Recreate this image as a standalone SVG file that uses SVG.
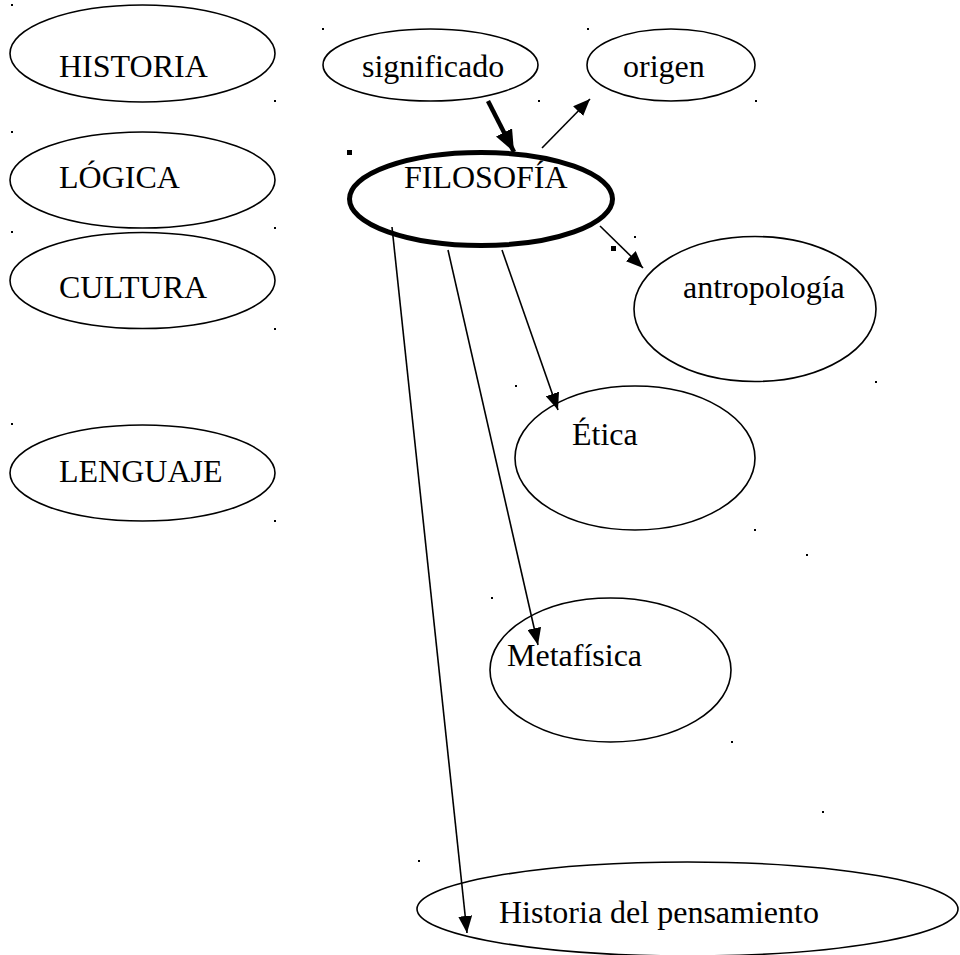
<svg xmlns="http://www.w3.org/2000/svg" width="960" height="955" viewBox="0 0 960 955">
<style>
.n{fill:#fff;stroke:#000;stroke-width:1.6}
.b{fill:#fff;stroke:#000;stroke-width:5}
.t{font-family:"Liberation Serif","Times New Roman",serif;font-size:32px;fill:#000}
.c{stroke:#000;stroke-width:1.6;fill:none}
.ct{stroke:#000;stroke-width:4.5;fill:none}
.d{fill:#000}
</style>
<defs>
<marker id="a" markerUnits="userSpaceOnUse" viewBox="0 0 17 14" refX="17" refY="7" markerWidth="17" markerHeight="14" orient="auto"><path d="M0,0 L17,7 L0,14 Z" fill="#000"/></marker>
<marker id="at" markerUnits="userSpaceOnUse" viewBox="0 0 22 18" refX="22" refY="9" markerWidth="22" markerHeight="18" orient="auto"><path d="M0,0 L22,9 L0,18 Z" fill="#000"/></marker>
</defs>
<rect width="960" height="955" fill="#fff"/>
<g id="historia"><ellipse class="n" cx="142.5" cy="53.5" rx="132.5" ry="48.5"/><text class="t" x="59" y="77">HISTORIA</text></g>
<g id="logica"><ellipse class="n" cx="142.5" cy="180" rx="132.5" ry="48"/><text class="t" x="59" y="188">LÓGICA</text></g>
<g id="cultura"><ellipse class="n" cx="142.5" cy="280.5" rx="132.5" ry="48"/><text class="t" x="59" y="298">CULTURA</text></g>
<g id="lenguaje"><ellipse class="n" cx="142.5" cy="473" rx="132.5" ry="48"/><text class="t" x="59" y="482">LENGUAJE</text></g>
<g id="significado"><ellipse class="n" cx="430.5" cy="65" rx="107.5" ry="36"/><text class="t" x="362" y="77">significado</text></g>
<g id="origen"><ellipse class="n" cx="671" cy="65" rx="84" ry="36"/><text class="t" x="623" y="77">origen</text></g>
<g id="filosofia"><ellipse class="b" cx="481" cy="199" rx="131.5" ry="46.5"/><text class="t" x="404" y="188">FILOSOFÍA</text></g>
<g id="antropologia"><ellipse class="n" cx="755" cy="309" rx="121" ry="72.5"/><text class="t" x="683" y="298">antropología</text></g>
<g id="etica"><ellipse class="n" cx="635" cy="458" rx="120" ry="72"/><text class="t" x="572" y="445">Ética</text></g>
<g id="metafisica"><ellipse class="n" cx="610.5" cy="670" rx="120.5" ry="72"/><text class="t" x="507" y="666">Metafísica</text></g>
<g id="historia-pensamiento"><ellipse class="n" cx="687.5" cy="909" rx="270.5" ry="47"/><text class="t" x="499" y="923">Historia del pensamiento</text></g>
<g id="connectors">
<line class="ct" x1="488" y1="101" x2="514" y2="152" marker-end="url(#at)"/>
<line class="c" x1="542" y1="148" x2="590" y2="99" marker-end="url(#a)"/>
<line class="c" x1="600" y1="226" x2="643" y2="268" marker-end="url(#a)"/>
<line class="c" x1="502" y1="250" x2="558" y2="410" marker-end="url(#a)"/>
<line class="c" x1="448" y1="250" x2="538" y2="645" marker-end="url(#a)"/>
<line class="c" x1="392" y1="227" x2="467" y2="933" marker-end="url(#a)"/>
</g>
<g id="dots" class="d">
<rect x="11" y="4" width="2" height="2"/>
<rect x="322" y="28" width="2" height="2"/>
<rect x="274" y="100" width="2" height="2"/>
<rect x="11" y="131" width="2" height="2"/>
<rect x="274" y="227" width="2" height="2"/>
<rect x="11" y="231" width="2" height="2"/>
<rect x="274" y="328" width="2" height="2"/>
<rect x="11" y="423" width="2" height="2"/>
<rect x="274" y="520" width="2" height="2"/>
<rect x="587" y="28" width="2" height="2"/>
<rect x="538" y="100" width="2" height="2"/>
<rect x="755" y="100" width="2" height="2"/>
<rect x="634" y="236" width="2" height="2"/>
<rect x="515" y="385" width="2" height="2"/>
<rect x="875" y="381" width="2" height="2"/>
<rect x="754" y="529" width="2" height="2"/>
<rect x="806" y="554" width="2" height="2"/>
<rect x="491" y="597" width="2" height="2"/>
<rect x="731" y="741" width="2" height="2"/>
<rect x="822" y="811" width="2" height="2"/>
<rect x="418" y="860" width="2" height="2"/>
<rect x="347" y="150" width="5" height="5"/>
<rect x="611" y="246" width="5" height="5"/>
</g>
</svg>
